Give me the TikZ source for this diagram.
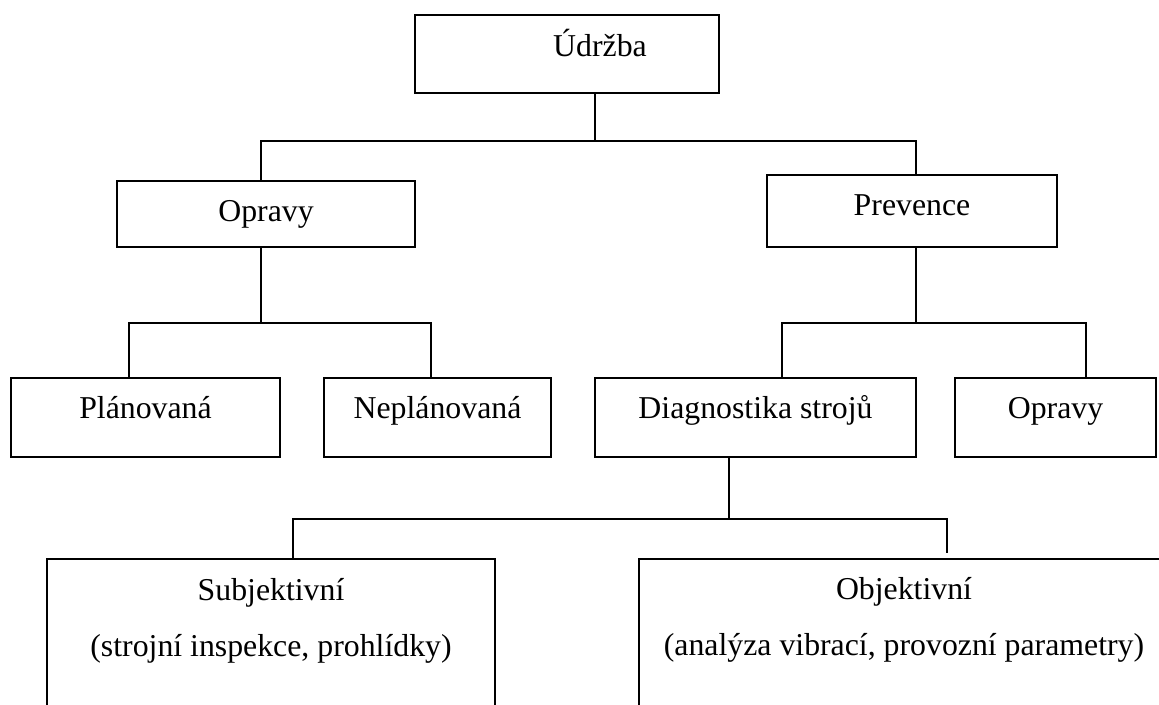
\documentclass[tikz,border=0pt]{standalone}
\usepackage{fontspec}
\setmainfont{Liberation Serif}
\begin{document}
\begin{tikzpicture}[x=1pt,y=1pt,
  box/.style={draw=black,line width=1.6pt,inner sep=0pt,outer sep=0pt,anchor=north west},
  txt/.style={anchor=base,inner sep=0pt,font=\fontsize{31.8}{38}\selectfont},
  conn/.style={draw=black,line width=1.6pt}]
\useasboundingbox (0,0) rectangle (1159,-704);
\clip (0,0) rectangle (1159,-704);
% boxes
\node[box,minimum width=304pt,minimum height=78pt] (udrzba) at (415,-15) {};
\node[box,minimum width=298pt,minimum height=66pt] (opravyL) at (117,-181) {};
\node[box,minimum width=290pt,minimum height=72pt] (prevence) at (767,-175) {};
\node[box,minimum width=269pt,minimum height=79pt] (plan) at (11,-378) {};
\node[box,minimum width=227pt,minimum height=79pt] (neplan) at (324,-378) {};
\node[box,minimum width=321pt,minimum height=79pt] (diag) at (595,-378) {};
\node[box,minimum width=201pt,minimum height=79pt] (opravyR) at (955,-378) {};
\node[box,minimum width=448pt,minimum height=180pt] (subj) at (47,-559) {};
\node[box,minimum width=531pt,minimum height=180pt] (obj) at (639,-559) {};
% texts
\node[txt] (tU) at (600,-56) {Údržba};
\node[txt] (tOL) at (266,-221) {Opravy};
\node[txt] (tP) at (912,-215) {Prevence};
\node[txt] (tPl) at (145.5,-418) {Plánovaná};
\node[txt] (tNp) at (437.5,-418) {Neplánovaná};
\node[txt] (tD) at (755.5,-418) {Diagnostika strojů};
\node[txt] (tOR) at (1055.5,-418) {Opravy};
\node[txt] (tS1) at (271,-600) {Subjektivní};
\node[txt] (tS2) at (271,-656) {(strojní inspekce, prohlídky)};
\node[txt] (tO1) at (904,-599) {Objektivní};
\node[txt] (tO2) at (904,-655) {(analýza vibrací, provozní parametry)};
% junctions
\coordinate (j1) at (595,-141);
\coordinate (j1l) at (261,-141);
\coordinate (j1r) at (916,-141);
\coordinate (j2) at (261,-323);
\coordinate (j2l) at (129,-323);
\coordinate (j2r) at (431,-323);
\coordinate (j3) at (916,-323);
\coordinate (j3l) at (782,-323);
\coordinate (j3r) at (1086,-323);
\coordinate (j4) at (729,-519);
\coordinate (j4l) at (293,-519);
\coordinate (j4r) at (947,-519);
\coordinate (e4) at (947,-553);
% connectors
\draw[conn] (j1 |- udrzba.south) -- (j1);
\draw[conn] (j1l |- opravyL.north) -- (j1l) -- (j1r) -- (j1r |- prevence.north);
\draw[conn] (j2 |- opravyL.south) -- (j2);
\draw[conn] (j2l |- plan.north) -- (j2l) -- (j2r) -- (j2r |- neplan.north);
\draw[conn] (j3 |- prevence.south) -- (j3);
\draw[conn] (j3l |- diag.north) -- (j3l) -- (j3r) -- (j3r |- opravyR.north);
\draw[conn] (j4 |- diag.south) -- (j4);
\draw[conn] (j4l |- subj.north) -- (j4l) -- (j4r) -- (e4);
\end{tikzpicture}
\end{document}
